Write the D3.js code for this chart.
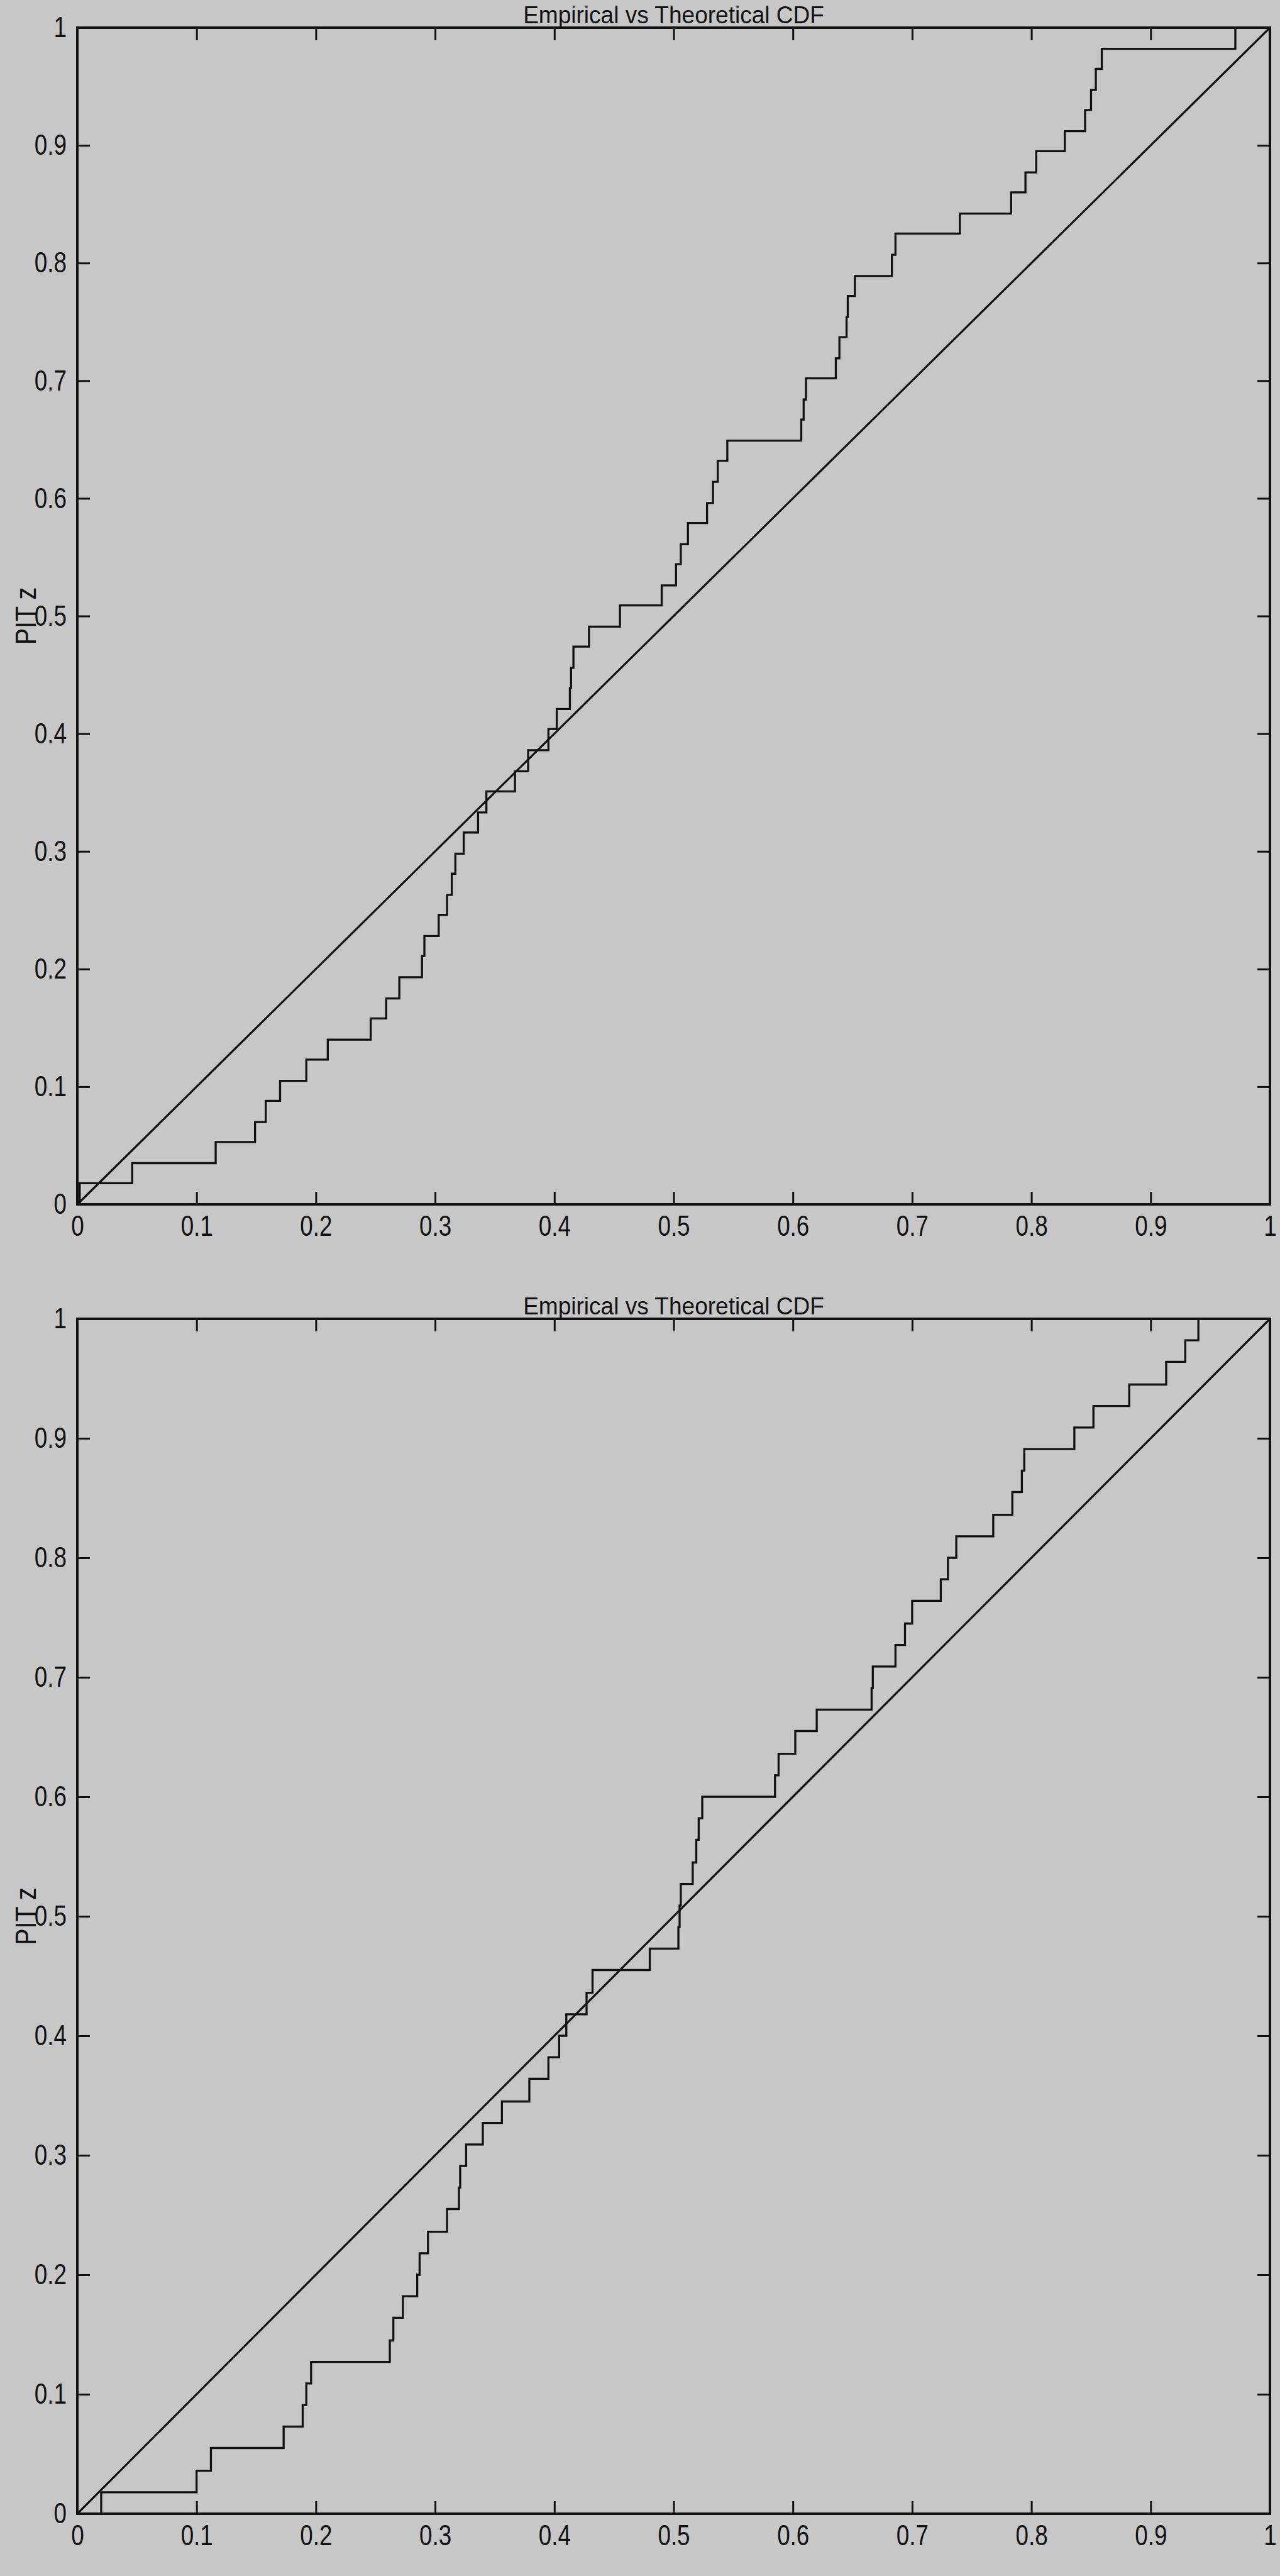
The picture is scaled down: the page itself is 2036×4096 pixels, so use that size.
<!DOCTYPE html>
<html>
<head>
<meta charset="utf-8">
<script src="https://cdn.jsdelivr.net/npm/d3@7"></script>
<style>
  html, body { margin: 0; padding: 0; background: #c7c7c7; }
  svg { display: block; }
  text { font-family: "Liberation Sans", Arial, Helvetica, sans-serif; fill: #111; }
</style>
</head>
<body>
<svg id="chart" width="2036" height="4096"></svg>
<script>
// jump positions (sorted PIT values) and CDF levels
const topX = [
  0.002, 0.046, 0.116, 0.149, 0.158, 0.170, 0.192, 0.210, 0.246, 0.259,
  0.270, 0.289, 0.291, 0.303, 0.310, 0.314, 0.317, 0.324, 0.336, 0.343,
  0.367, 0.378, 0.395, 0.402, 0.413, 0.414, 0.416, 0.429, 0.455, 0.490,
  0.502, 0.506, 0.512, 0.528, 0.533, 0.537, 0.545, 0.607, 0.609, 0.611,
  0.636, 0.639, 0.645, 0.646, 0.652, 0.683, 0.686, 0.740, 0.783, 0.795,
  0.804, 0.828, 0.845, 0.850, 0.854, 0.859, 0.971
];
const topY = [
  0.018, 0.035, 0.053, 0.070, 0.088, 0.105, 0.123, 0.140, 0.158, 0.175,
  0.193, 0.211, 0.228, 0.246, 0.263, 0.281, 0.298, 0.316, 0.333, 0.351,
  0.368, 0.386, 0.404, 0.421, 0.439, 0.456, 0.474, 0.491, 0.509, 0.526,
  0.544, 0.561, 0.579, 0.596, 0.614, 0.632, 0.649, 0.667, 0.684, 0.702,
  0.719, 0.737, 0.754, 0.772, 0.789, 0.807, 0.825, 0.842, 0.860, 0.877,
  0.895, 0.912, 0.930, 0.947, 0.965, 0.982, 1.000
];
const bottomX = [
  0.020, 0.100, 0.112, 0.173, 0.189, 0.192, 0.196, 0.262, 0.265, 0.273,
  0.285, 0.287, 0.294, 0.310, 0.320, 0.321, 0.326, 0.340, 0.356, 0.379,
  0.395, 0.404, 0.410, 0.427, 0.432, 0.480, 0.504, 0.505, 0.506, 0.516,
  0.519, 0.521, 0.524, 0.585, 0.588, 0.602, 0.620, 0.666, 0.667, 0.686,
  0.694, 0.700, 0.724, 0.730, 0.737, 0.768, 0.784, 0.792, 0.794, 0.836,
  0.852, 0.882, 0.913, 0.929, 0.940
];
const bottomY = [
  0.018, 0.036, 0.055, 0.073, 0.091, 0.109, 0.127, 0.145, 0.164, 0.182,
  0.200, 0.218, 0.236, 0.255, 0.273, 0.291, 0.309, 0.327, 0.345, 0.364,
  0.382, 0.400, 0.418, 0.436, 0.455, 0.473, 0.491, 0.509, 0.527, 0.545,
  0.564, 0.582, 0.600, 0.618, 0.636, 0.655, 0.673, 0.691, 0.709, 0.727,
  0.745, 0.764, 0.782, 0.800, 0.818, 0.836, 0.855, 0.873, 0.891, 0.909,
  0.927, 0.945, 0.964, 0.982, 1.000
];
// theoretical (uniform) CDF
const theoretical = [[0, 0], [1, 1]];
const tickValues = [0, 0.1, 0.2, 0.3, 0.4, 0.5, 0.6, 0.7, 0.8, 0.9, 1];
const tickLabels = ["0", "0.1", "0.2", "0.3", "0.4", "0.5", "0.6", "0.7", "0.8", "0.9", "1"];
const titleText = "Empirical vs Theoretical CDF";
const yLabelText = "PIT z";

const W = 2036, H = 4096;
const svg = d3.select("#chart");
svg.append("rect").attr("width", W).attr("height", H).attr("fill", "#c7c7c7");

const left = 123, right = 2020;
const fontSize = 46, squeeze = 0.8, tickLen = 20, pad = 17;
const ink = "#111";

const panels = [
  { xs: topX, ys: topY, top: 44, bottom: 1915 },
  { xs: bottomX, ys: bottomY, top: 2097, bottom: 3997 }
];

panels.forEach((p) => {
  const x = d3.scaleLinear().domain([0, 1]).range([left, right]);
  const y = d3.scaleLinear().domain([0, 1]).range([p.bottom, p.top]);
  const g = svg.append("g");
  const fmt = (d, i) => tickLabels[i];

  // x axis (ticks inside)
  const gx = g.append("g")
    .attr("transform", `translate(0,${p.bottom})`)
    .call(d3.axisBottom(x).tickValues(tickValues).tickFormat(fmt)
      .tickSizeInner(-tickLen).tickSizeOuter(0).tickPadding(17));
  gx.selectAll("text").attr("transform", `scale(${squeeze},1)`);

  const gy = g.append("g")
    .attr("transform", `translate(${left},0)`)
    .call(d3.axisLeft(y).tickValues(tickValues).tickFormat(fmt)
      .tickSizeInner(-tickLen).tickSizeOuter(0).tickPadding(pad));
  gy.selectAll("text").attr("x", -pad / squeeze).attr("transform", `scale(${squeeze},1)`);

  g.append("g")
    .attr("transform", `translate(0,${p.top})`)
    .call(d3.axisTop(x).tickValues(tickValues).tickFormat("")
      .tickSizeInner(-tickLen).tickSizeOuter(0));
  g.append("g")
    .attr("transform", `translate(${right},0)`)
    .call(d3.axisRight(y).tickValues(tickValues).tickFormat("")
      .tickSizeInner(-tickLen).tickSizeOuter(0));

  g.selectAll(".domain").remove();
  g.selectAll(".tick line").attr("stroke", ink).attr("stroke-width", 3);
  g.selectAll(".tick text").attr("font-size", fontSize).attr("fill", ink)
    .attr("font-family", "Liberation Sans, Arial, sans-serif");

  // theoretical diagonal
  const line = d3.line().x((d) => x(d[0])).y((d) => y(d[1]));
  g.append("path")
    .datum(theoretical)
    .attr("d", line)
    .attr("fill", "none")
    .attr("stroke", ink)
    .attr("stroke-width", 3.3);

  // empirical CDF as stairs
  const pts = [[p.xs[0], 0]]
    .concat(p.xs.map((v, i) => [v, p.ys[i]]))
    .concat([[1, p.ys[p.ys.length - 1]]]);
  g.append("path")
    .datum(pts)
    .attr("d", line.curve(d3.curveStepAfter))
    .attr("fill", "none")
    .attr("stroke", ink)
    .attr("stroke-width", 3.3);

  // axes box
  g.append("rect")
    .attr("x", left).attr("y", p.top)
    .attr("width", right - left).attr("height", p.bottom - p.top)
    .attr("fill", "none").attr("stroke", ink).attr("stroke-width", 4);

  // title
  g.append("text")
    .attr("transform", `translate(${(left + right) / 2},${p.top - 7}) scale(0.95,1)`)
    .attr("text-anchor", "middle")
    .attr("font-size", 39)
    .text(titleText);

  // y label
  g.append("text")
    .attr("transform", `translate(57,${(p.top + p.bottom) / 2}) rotate(-90) scale(0.86,1)`)
    .attr("text-anchor", "middle")
    .attr("font-size", fontSize)
    .text(yLabelText);
});
</script>
</body>
</html>
